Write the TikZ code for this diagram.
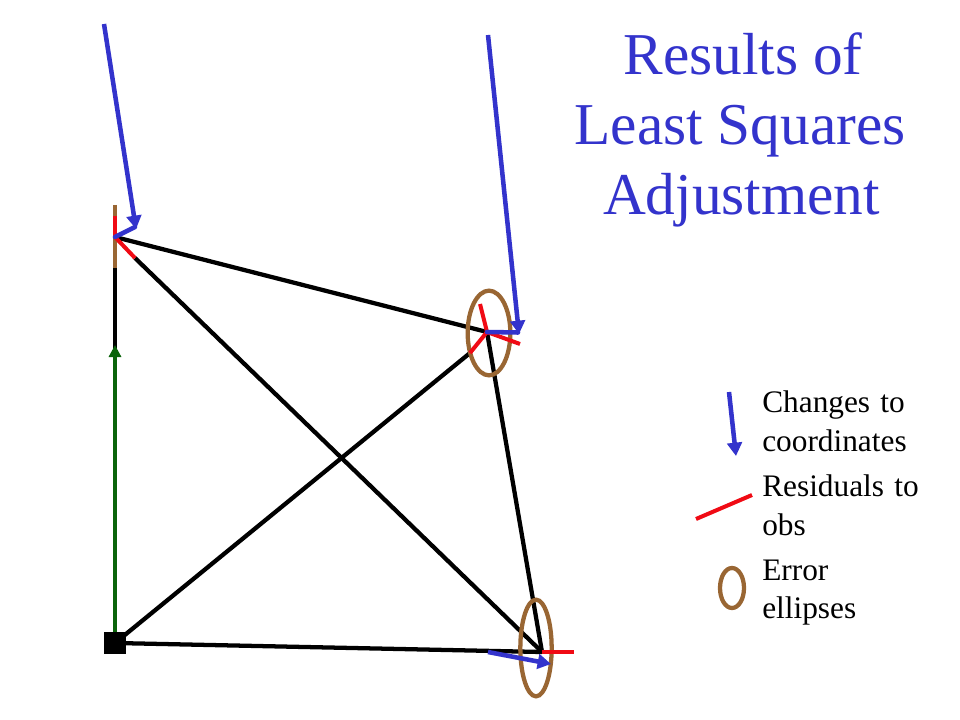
\documentclass[tikz,border=0pt]{standalone}
\usepackage{fontspec}
\setmainfont{Liberation Serif}
\usetikzlibrary{arrows.meta,shapes.geometric}
\definecolor{bluechg}{RGB}{51,51,204}
\definecolor{brownell}{RGB}{153,102,51}
\definecolor{redres}{RGB}{240,10,20}
\definecolor{greenobs}{RGB}{10,100,10}
\tikzset{
  obsline/.style={draw=black,line width=3.2pt},
  fixedline/.style={draw=greenobs,line width=2.8pt,-{Triangle[length=9pt,width=9pt]}},
  resline/.style={draw=redres,line width=3pt},
  chgline/.style={draw=bluechg,line width=3.4pt},
  chgarrow/.style={chgline,-{Triangle[length=10pt,width=11pt]}},
  ellipseline/.style={draw=brownell,line width=3.2pt},
  errell/.style={ellipse,ellipseline,inner sep=0pt,fill=none},
  titletext/.style={anchor=base,font=\fontsize{44.5}{44.5}\selectfont,text=bluechg},
  legendtext/.style={anchor=base west,font=\fontsize{23.5}{23.5}\selectfont,text=black,inner sep=0pt},
  basepoint/.style={fill=black,minimum size=16.5pt,inner sep=0pt,draw=none}
}
\begin{document}
\begin{tikzpicture}[x=0.75pt,y=-0.75pt]
\useasboundingbox (0,0) rectangle (960,720);
\fill[white] (0,0) rectangle (960,720);
% stations
\coordinate (A) at (115,237);
\coordinate (B) at (487,332);
\coordinate (C) at (542,652);
\coordinate (D) at (115,643);
\coordinate (Atop) at (115,205);
\coordinate (Abot) at (115,268);
\coordinate (Greentip) at (115,345);
% residual end points
\coordinate (Ra1) at (115,216);
\coordinate (Ra2) at (135,258);
\coordinate (Rb1) at (480,304);
\coordinate (Rb2) at (520,344);
\coordinate (Rb3) at (470,353);
\coordinate (Rc1) at (574,652);
% observations
\draw[obsline] (Abot) -- (D);
\draw[fixedline] (D) -- (Greentip);
\draw[obsline] (A) -- (B);
\draw[obsline] (Ra2) -- (C);
\draw[obsline] (B) -- (C);
\draw[obsline] (Rb3) -- (D);
\draw[obsline] (D) -- (C);
\node[basepoint] (base) at (D) {};
% error ellipses
\draw[ellipseline] (Atop) -- (Abot);
\node[errell,minimum width=32pt,minimum height=63.5pt] (ellB) at (489,333) {};
\node[errell,minimum width=23.5pt,minimum height=72.5pt] (ellC) at (536,648) {};
% residuals
\draw[resline] (A) -- (Ra1);
\draw[resline] (A) -- (Ra2);
\draw[resline] (B) -- (Rb1);
\draw[resline] (B) -- (Rb2);
\draw[resline] (B) -- (Rb3);
\draw[resline] (C) -- (Rc1);
% coordinate changes
\coordinate (Sa) at (104,24);
\coordinate (Ta) at (136,229);
\coordinate (Sb) at (488,35);
\coordinate (Tb) at (519,334);
\coordinate (Sc) at (488,652);
\coordinate (Tc) at (551,664);
\coordinate (Ea) at (135,227);
\coordinate (Eb) at (518,332.5);
\draw[chgarrow] (Sa) -- (Ta);
\draw[chgline,line cap=round] (A) -- (Ea);
\draw[chgarrow] (Sb) -- (Tb);
\draw[chgline,line cap=round] (B) -- (Eb);
\draw[chgarrow] (Sc) -- (Tc);
% title
\node[titletext] (t1) at (743,75) {Results of};
\node[titletext] (t2) at (740,145) {Least Squares};
\node[titletext] (t3) at (741.5,215) {Adjustment};
% legend
\coordinate (L1a) at (729,392);
\coordinate (L1b) at (736,456);
\draw[chgarrow] (L1a) -- (L1b);
\coordinate (L2a) at (696,519);
\coordinate (L2b) at (752,495);
\draw[resline] (L2a) -- (L2b);
\node[errell,minimum width=18pt,minimum height=30pt] (ellL) at (732,588) {};
\node[legendtext] (l1) at (762,412) {Changes\hspace{7.7pt}to};
\node[legendtext] (l2) at (762,451) {coordinates};
\node[legendtext] (l3) at (762,496) {Residuals\hspace{7.7pt}to};
\node[legendtext] (l4) at (762,535) {obs};
\node[legendtext] (l5) at (762,580) {Error};
\node[legendtext] (l6) at (762,618) {ellipses};
\end{tikzpicture}
\end{document}
